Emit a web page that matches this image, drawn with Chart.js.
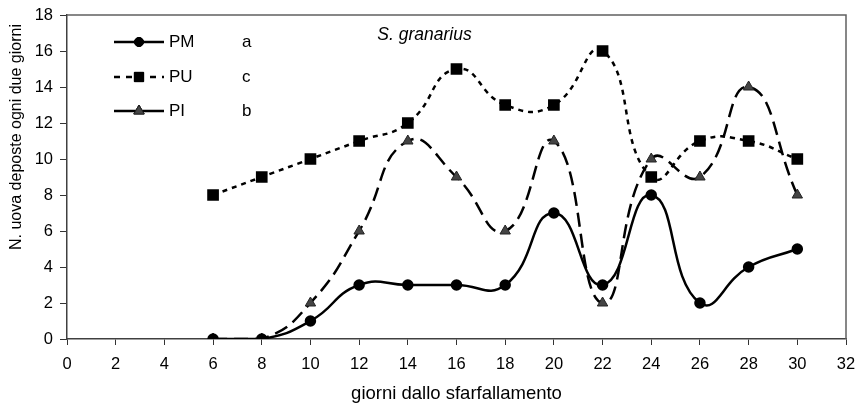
<!DOCTYPE html>
<html>
<head>
<meta charset="utf-8">
<script src="https://cdn.jsdelivr.net/npm/chart.js@4/dist/chart.umd.min.js"></script>
<style>
html,body{margin:0;padding:0;background:#fff;}
#wrap{width:861px;height:406px;position:relative;}
</style>
</head>
<body>
<div id="wrap"><canvas id="c" width="861" height="406"></canvas></div>
<script>
const days = [6, 8, 10, 12, 14, 16, 18, 20, 22, 24, 26, 28, 30];
const pm = [0, 0, 1, 3, 3, 3, 3, 7, 3, 8, 2, 4, 5];
const pu = [8, 9, 10, 11, 12, 15, 13, 13, 16, 9, 11, 11, 10];
const pi = [0, 0, 2, 6, 11, 9, 6, 11, 2, 10, 9, 14, 8];
const seriesNames = ['PM', 'PU', 'PI'];
const seriesLetters = ['a', 'c', 'b'];
const xTicks = [0, 2, 4, 6, 8, 10, 12, 14, 16, 18, 20, 22, 24, 26, 28, 30, 32];
const yTicks = [0, 2, 4, 6, 8, 10, 12, 14, 16, 18];
const chartTitle = 'S. granarius';
const xTitle = 'giorni dallo sfarfallamento';
const yTitle = 'N. uova deposte ogni due giorni';

const FONT = "'Liberation Sans', Arial, sans-serif";
const toXY = arr => days.map((d, i) => ({x: d, y: arr[i]}));

const datasets = [
  {label: seriesNames[0], data: toXY(pm), borderColor: '#000', backgroundColor: '#000',
   borderWidth: 2.5, pointStyle: 'circle', pointRadius: 4.5, pointBorderColor: '#000', pointBackgroundColor: '#000', borderDash: []},
  {label: seriesNames[1], data: toXY(pu), borderColor: '#000', backgroundColor: '#000',
   borderWidth: 2.5, pointStyle: 'rect', pointRadius: 6.5, pointBorderColor: '#000', pointBackgroundColor: '#000', borderDash: [5, 5]},
  {label: seriesNames[2], data: toXY(pi), borderColor: '#000', backgroundColor: '#444',
   borderWidth: 2.5, pointStyle: 'triangle', pointRadius: 6, pointBorderWidth: 1, pointBorderColor: '#222', pointBackgroundColor: '#444', borderDash: [14, 7]}
];

const frame = {
  id: 'frame',
  beforeDatasetsDraw(chart) {
    const {ctx, chartArea: a} = chart;
    ctx.save();
    ctx.strokeStyle = '#606060';
    ctx.lineWidth = 1.5;
    ctx.beginPath();
    ctx.moveTo(a.left, a.top);
    ctx.lineTo(a.right, a.top);
    ctx.lineTo(a.right, a.bottom);
    ctx.stroke();
    ctx.restore();
  },
  afterDatasetsDraw(chart) {
    const {ctx} = chart;
    ctx.save();
    // y axis title
    ctx.save();
    ctx.translate(17, 137);
    ctx.rotate(-Math.PI / 2);
    ctx.font = "16px " + FONT;
    ctx.fillStyle = '#000';
    ctx.textAlign = 'center';
    ctx.textBaseline = 'middle';
    ctx.fillText(yTitle, 0, 0);
    ctx.restore();
    // chart title
    ctx.font = "italic 17.5px " + FONT;
    ctx.fillStyle = '#000';
    ctx.textAlign = 'center';
    ctx.textBaseline = 'middle';
    ctx.fillText(chartTitle, 424.5, 35);
    // legend
    const ys = [42, 77, 111];
    chart.data.datasets.forEach((ds, i) => {
      const y = ys[i];
      ctx.save();
      ctx.strokeStyle = '#000';
      ctx.lineWidth = 2.5;
      ctx.setLineDash(i === 1 ? [6, 6] : []);
      ctx.beginPath();
      ctx.moveTo(114, y); ctx.lineTo(164, y);
      ctx.stroke();
      ctx.restore();
      Chart.helpers.drawPoint(ctx, {
        pointStyle: ds.pointStyle, radius: ds.pointRadius, rotation: 0,
        borderWidth: ds.pointBorderWidth || 1
      }, 139, y);
      ctx.fillStyle = ds.pointBackgroundColor;
      ctx.strokeStyle = ds.pointBorderColor;
      ctx.lineWidth = ds.pointBorderWidth || 1;
      ctx.fill();
      ctx.stroke();
      ctx.fillStyle = '#000';
      ctx.font = "17px " + FONT;
      ctx.textAlign = 'left';
      ctx.textBaseline = 'middle';
      ctx.fillText(seriesNames[i], 169, y);
      ctx.fillText(seriesLetters[i], 242, y);
    });
    ctx.restore();
  }
};

new Chart(document.getElementById('c'), {
  type: 'line',
  data: {datasets},
  plugins: [frame],
  options: {
    responsive: false,
    animation: false,
    devicePixelRatio: 1,
    layout: {padding: {left: 0, right: 15, top: 15, bottom: 0}},
    elements: {line: {tension: 0.5, fill: false}},
    plugins: {legend: {display: false}, tooltip: {enabled: false}, title: {display: false}},
    scales: {
      x: {
        type: 'linear', min: 0, max: 32,
        afterBuildTicks: s => { s.ticks = xTicks.map(v => ({value: v})); },
        afterFit: s => { s.height = 67; s.paddingLeft = 0; s.paddingRight = 0; },
        grid: {drawOnChartArea: false, drawTicks: true, tickLength: 6, color: '#333', tickWidth: 1},
        border: {display: true, color: '#404040', width: 1.5},
        ticks: {color: '#000', font: {family: FONT, size: 16.5}, padding: 10, maxRotation: 0, autoSkip: false},
        title: {display: true, text: xTitle, color: '#000', font: {family: FONT, size: 18.5}, padding: {top: 0, bottom: 1}}
      },
      y: {
        type: 'linear', min: 0, max: 18,
        afterBuildTicks: s => { s.ticks = yTicks.map(v => ({value: v})); },
        afterFit: s => { s.width = 67; s.paddingTop = 0; s.paddingBottom = 0; },
        grid: {drawOnChartArea: false, drawTicks: true, tickLength: 7, color: '#333', tickWidth: 1},
        border: {display: true, color: '#404040', width: 1.5},
        ticks: {color: '#000', font: {family: FONT, size: 16.5}, padding: 7, autoSkip: false},
        title: {display: false}
      }
    }
  }
});
</script>
</body>
</html>
